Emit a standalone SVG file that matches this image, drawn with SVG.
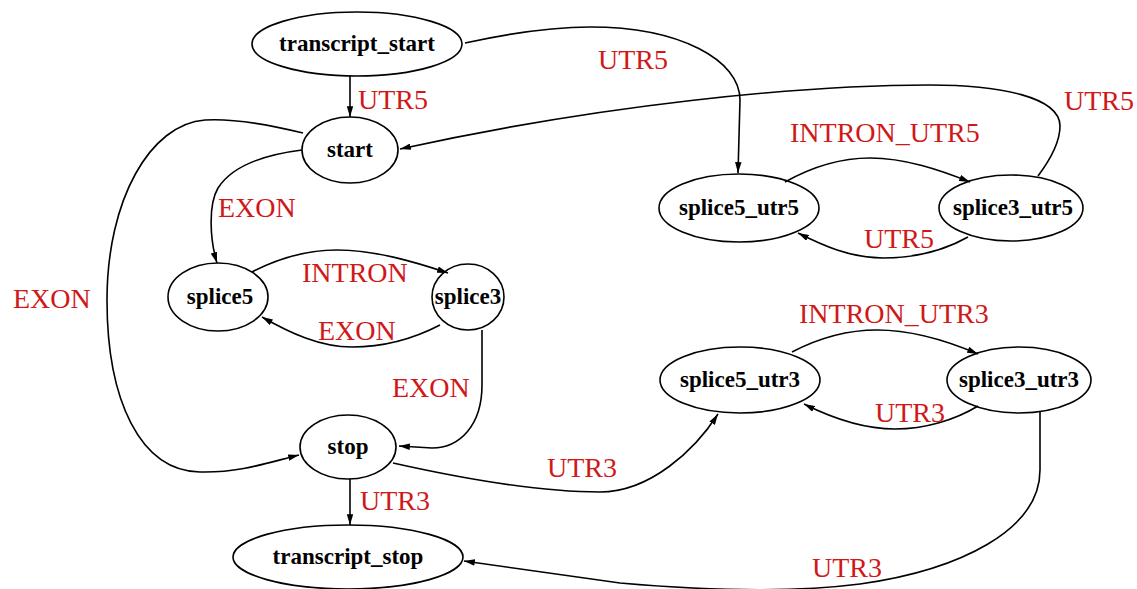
<svg xmlns="http://www.w3.org/2000/svg" width="1137" height="589" viewBox="0 0 1137 589">
  <style>
    .node ellipse { fill: none; stroke: #000; stroke-width: 1.6; }
    .node text { font-family: "Liberation Serif", "Times New Roman", serif; font-weight: bold; font-size: 23px; fill: #000; text-anchor: middle; }
    .edges path { fill: none; stroke: #000; stroke-width: 1.6; marker-end: url(#arrow); }
    .lbl { font-family: "Liberation Serif", "Times New Roman", serif; font-size: 28px; fill: #d01818; }
  </style>
  <defs>
    <marker id="arrow" viewBox="0 0 10 6" refX="10" refY="3" markerWidth="11" markerHeight="6.5" markerUnits="userSpaceOnUse" orient="auto">
      <path d="M0,0 L10,3 L0,6 Z" fill="#000"/>
    </marker>
  </defs>
  <rect width="1137" height="589" fill="#fff"/>

  <!-- connectors -->
  <g id="edges" class="edges">
    <path d="M350,76 L350,117"/>
    <path d="M465,43 C520,31 560,27 590,27 C680,27 740,60 740,100 L738,173"/>
    <path d="M1038,176 C1050,160 1060,142 1060,126 C1060,97 1000,85 930,85 C800,85 600,105 400,149"/>
    <path d="M785,182 C810,168 840,158 870,158 C905,158 940,170 970,182"/>
    <path d="M968,237 C945,250 915,258 883,258 C850,258 822,245 798,233"/>
    <path d="M302,150 C262,155 232,166 218,188 C208,205 210,240 217,263"/>
    <path d="M303,133 C270,125 235,118 205,120 C150,124 107,200 107,300 C107,400 140,471 200,472 C240,473 270,462 299,455"/>
    <path d="M252,272 C277,259 305,250 337,250 C375,250 415,262 448,273"/>
    <path d="M440,325 C415,338 385,347 352,347 C320,347 290,333 262,317"/>
    <path d="M482,330 L482,385 C482,425 460,448 432,448 L399,446"/>
    <path d="M393,463 C460,478 540,492 600,492 C650,492 695,450 718,414"/>
    <path d="M350,479 L350,525"/>
    <path d="M792,352 C815,340 845,330 877,330 C915,330 950,342 978,354"/>
    <path d="M978,406 C955,420 925,429 895,429 C865,429 832,418 804,404"/>
    <path d="M1040,412 L1040,470 C1040,530 960,570 860,584 C790,593 700,590 620,583 L464,561"/>
  </g>

  <!-- edge labels -->
  <g id="edge-labels">
    <text class="lbl" x="358" y="109">UTR5</text>
    <text class="lbl" x="598" y="69">UTR5</text>
    <text class="lbl" x="1064" y="110">UTR5</text>
    <text class="lbl" x="790" y="142">INTRON_UTR5</text>
    <text class="lbl" x="864" y="248">UTR5</text>
    <text class="lbl" x="218" y="217">EXON</text>
    <text class="lbl" x="13" y="308">EXON</text>
    <text class="lbl" x="302" y="282">INTRON</text>
    <text class="lbl" x="318" y="340">EXON</text>
    <text class="lbl" x="392" y="397">EXON</text>
    <text class="lbl" x="547" y="477">UTR3</text>
    <text class="lbl" x="360" y="510">UTR3</text>
    <text class="lbl" x="799" y="323">INTRON_UTR3</text>
    <text class="lbl" x="875" y="422">UTR3</text>
    <text class="lbl" x="812" y="577">UTR3</text>
  </g>

  <!-- nodes -->
  <g id="transcript_start" class="node">
    <ellipse cx="357" cy="44" rx="105" ry="32"/>
    <text x="357" y="51">transcript_start</text>
  </g>
  <g id="start" class="node">
    <ellipse cx="350" cy="150" rx="48" ry="33"/>
    <text x="350" y="157">start</text>
  </g>
  <g id="splice5" class="node">
    <ellipse cx="218" cy="297" rx="50" ry="34"/>
    <text x="220" y="304">splice5</text>
  </g>
  <g id="splice3" class="node">
    <ellipse cx="468" cy="297" rx="36" ry="33"/>
    <text x="468" y="304">splice3</text>
  </g>
  <g id="stop" class="node">
    <ellipse cx="348" cy="447" rx="48" ry="32"/>
    <text x="348" y="454">stop</text>
  </g>
  <g id="transcript_stop" class="node">
    <ellipse cx="348" cy="557" rx="115" ry="32"/>
    <text x="348" y="564">transcript_stop</text>
  </g>
  <g id="splice5_utr5" class="node">
    <ellipse cx="739" cy="208" rx="80" ry="34"/>
    <text x="739" y="215">splice5_utr5</text>
  </g>
  <g id="splice3_utr5" class="node">
    <ellipse cx="1011" cy="208" rx="72" ry="33"/>
    <text x="1013" y="215">splice3_utr5</text>
  </g>
  <g id="splice5_utr3" class="node">
    <ellipse cx="740" cy="380" rx="80" ry="33"/>
    <text x="740" y="387">splice5_utr3</text>
  </g>
  <g id="splice3_utr3" class="node">
    <ellipse cx="1019" cy="380" rx="72" ry="33"/>
    <text x="1019" y="387">splice3_utr3</text>
  </g>
</svg>
